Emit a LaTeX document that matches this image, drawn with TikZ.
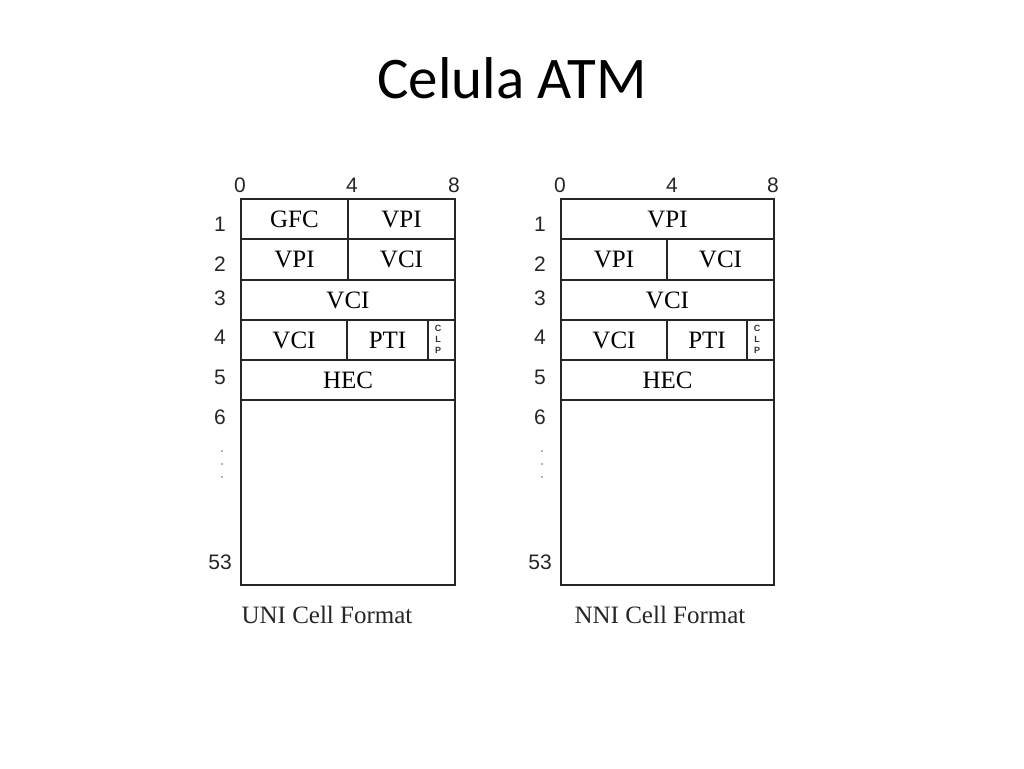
\documentclass[tikz,border=0pt]{standalone}
\usepackage{fontspec}
\setmainfont{Liberation Serif}
\newfontfamily\titlefont{Carlito}
\newfontfamily\numfont{Liberation Sans}
\begin{document}
\begin{tikzpicture}[x=1pt,y=-1pt,
  cell/.style={draw=black!85, line width=1.3pt, inner sep=0pt, outer sep=0pt, anchor=north west,
    text height=16.5pt, text depth=0pt, font=\fontsize{25}{25}\selectfont},
  num/.style={inner sep=0pt, text height=15.5pt, text depth=0pt, font=\numfont\fontsize{21}{21}\selectfont, text=black!85},
  clp/.style={inner sep=0pt, text height=6.5pt, text depth=0pt, font=\numfont\fontsize{9}{9}\selectfont\bfseries, text=black!80},
  dotl/.style={inner sep=0pt, circle, fill=black!60, minimum size=1.8pt},
  caption/.style={inner sep=0pt, anchor=base, font=\fontsize{25}{25}\selectfont, text=black!85}]
\useasboundingbox (0,0) rectangle (1024,768);
\fill[white] (0,0) rectangle (1024,768);
\node[anchor=base, inner sep=0pt, font=\titlefont\fontsize{59}{59}\selectfont] (title) at (512,98) {Celula ATM};

% ---------- UNI ----------
\node[cell, minimum width=107pt, minimum height=40pt] (u1a) at (241,199) {GFC};
\node[cell, minimum width=107pt, minimum height=40pt] (u1b) at (348,199) {VPI};
\node[cell, minimum width=107pt, minimum height=41pt] (u2a) at (241,239) {VPI};
\node[cell, minimum width=107pt, minimum height=41pt] (u2b) at (348,239) {VCI};
\node[cell, minimum width=214pt, minimum height=40pt] (u3) at (241,280) {VCI};
\node[cell, minimum width=106pt, minimum height=40pt] (u4a) at (241,320) {VCI};
\node[cell, minimum width=81pt, minimum height=40pt] (u4b) at (347,320) {PTI};
\node[cell, minimum width=27pt, minimum height=40pt] (u4c) at (428,320) {};
\node[cell, minimum width=214pt, minimum height=40pt] (u5) at (241,360) {HEC};
\node[cell, minimum width=214pt, minimum height=185pt] (u6) at (241,400) {};
\node[clp] (uc) at (438,328) {C};
\node[clp] (ul) at (438,339) {L};
\node[clp] (up) at (438,350) {P};

\node[num] (ut0) at (240,185) {0};
\node[num] (ut4) at (352,185) {4};
\node[num] (ut8) at (454,185) {8};
\node[num] (ur1) at (220,224) {1};
\node[num] (ur2) at (220,264) {2};
\node[num] (ur3) at (220,298) {3};
\node[num] (ur4) at (220,337) {4};
\node[num] (ur5) at (220,377) {5};
\node[num] (ur6) at (220,417) {6};
\node[dotl] (ud1) at (222,451) {};
\node[dotl] (ud2) at (222,464) {};
\node[dotl] (ud3) at (222,477) {};
\node[num] (ur53) at (220,562) {53};
\node[caption] (ucap) at (327,623) {UNI Cell Format};

% ---------- NNI ----------
\node[cell, minimum width=213pt, minimum height=40pt] (n1) at (561,199) {VPI};
\node[cell, minimum width=106pt, minimum height=41pt] (n2a) at (561,239) {VPI};
\node[cell, minimum width=107pt, minimum height=41pt] (n2b) at (667,239) {VCI};
\node[cell, minimum width=213pt, minimum height=40pt] (n3) at (561,280) {VCI};
\node[cell, minimum width=106pt, minimum height=40pt] (n4a) at (561,320) {VCI};
\node[cell, minimum width=80pt, minimum height=40pt] (n4b) at (667,320) {PTI};
\node[cell, minimum width=27pt, minimum height=40pt] (n4c) at (747,320) {};
\node[cell, minimum width=213pt, minimum height=40pt] (n5) at (561,360) {HEC};
\node[cell, minimum width=213pt, minimum height=185pt] (n6) at (561,400) {};
\node[clp] (nc) at (757,328) {C};
\node[clp] (nl) at (757,339) {L};
\node[clp] (np) at (757,350) {P};

\node[num] (nt0) at (560,185) {0};
\node[num] (nt4) at (672,185) {4};
\node[num] (nt8) at (773,185) {8};
\node[num] (nr1) at (540,224) {1};
\node[num] (nr2) at (540,264) {2};
\node[num] (nr3) at (540,298) {3};
\node[num] (nr4) at (540,337) {4};
\node[num] (nr5) at (540,377) {5};
\node[num] (nr6) at (540,417) {6};
\node[dotl] (nd1) at (542,451) {};
\node[dotl] (nd2) at (542,464) {};
\node[dotl] (nd3) at (542,477) {};
\node[num] (nr53) at (540,562) {53};
\node[caption] (ncap) at (660,623) {NNI Cell Format};
\end{tikzpicture}
\end{document}
